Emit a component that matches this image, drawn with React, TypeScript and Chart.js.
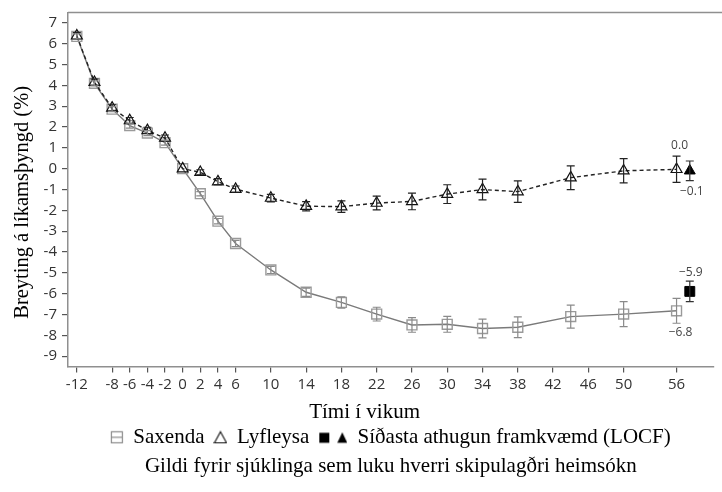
import React, { useEffect, useRef } from 'react';
import { Chart, registerables } from 'chart.js';

Chart.register(...registerables);

// ---- data ----
const weeks = [-12, -10, -8, -6, -4, -2, 0, 2, 4, 6, 10, 14, 18, 22, 26, 30, 34, 38, 44, 50, 56];
const saxenda = [6.35, 4.1, 2.86, 2.07, 1.71, 1.25, 0, -1.2, -2.52, -3.59, -4.86, -5.93, -6.42, -6.98, -7.5, -7.47, -7.67, -7.61, -7.1, -6.98, -6.82];
const saxendaErr = [0.12, 0.12, 0.12, 0.12, 0.12, 0.12, 0, 0.1, 0.13, 0.15, 0.17, 0.2, 0.27, 0.33, 0.35, 0.38, 0.45, 0.5, 0.55, 0.6, 0.6];
const lyfleysa = [6.38, 4.15, 2.92, 2.31, 1.84, 1.47, 0, -0.17, -0.62, -0.98, -1.41, -1.8, -1.82, -1.65, -1.57, -1.22, -1.0, -1.1, -0.43, -0.1, -0.03];
const lyfleysaErr = [0.15, 0.15, 0.15, 0.15, 0.15, 0.15, 0, 0.12, 0.14, 0.15, 0.18, 0.22, 0.28, 0.33, 0.4, 0.45, 0.5, 0.52, 0.57, 0.58, 0.63];
const locfWeek = [57.5];
const saxendaLocf = [-5.89];
const saxendaLocfErr = [0.49];
const lyfleysaLocf = [-0.1];
const lyfleysaLocfErr = [0.47];
const xTicks = [-12, -8, -6, -4, -2, 0, 2, 4, 6, 10, 14, 18, 22, 26, 30, 34, 38, 42, 46, 50, 56];
const yTicks = [-9, -8, -7, -6, -5, -4, -3, -2, -1, 0, 1, 2, 3, 4, 5, 6, 7];
const endLabels = ['0.0', '\u22120.1', '\u22125.9', '\u22126.8'];
const legendNames = ['Saxenda', 'Lyfleysa', 'Síðasta athugun framkvæmd (LOCF)'];
const yTitle = 'Breyting á líkamsþyngd (%)';
const xTitle = 'Tími í vikum';
const footnote = 'Gildi fyrir sjúklinga sem luku hverri skipulagðri heimsókn';

const SERIF = "'Liberation Serif', 'Times New Roman', serif";
const SANS = "'Open Sans', 'DejaVu Sans', sans-serif";

function pts(xs: number[], ys: number[]) {
  return xs.map((x, i) => ({ x, y: ys[i] }));
}

function makeCanvas(w: number, h: number, draw: (c: CanvasRenderingContext2D) => void) {
  const cv = document.createElement('canvas');
  cv.width = w;
  cv.height = h;
  const c = cv.getContext('2d')!;
  draw(c);
  return cv;
}

const errorBars = {
  id: 'errorBars',
  afterDatasetsDraw(chart: any) {
    const ctx = chart.ctx;
    const ys = chart.scales.y;
    chart.data.datasets.forEach((ds: any, di: number) => {
      if (!ds.errors) return;
      const meta = chart.getDatasetMeta(di);
      ctx.save();
      ctx.strokeStyle = ds.errColor;
      ctx.lineWidth = 1.2;
      meta.data.forEach((el: any, i: number) => {
        const e = ds.errors[i];
        if (!e) return;
        const v = ds.data[i].y;
        const x = el.x;
        const y1 = ys.getPixelForValue(v + e);
        const y2 = ys.getPixelForValue(v - e);
        ctx.beginPath();
        ctx.moveTo(x, y1);
        ctx.lineTo(x, y2);
        ctx.moveTo(x - 4, y1);
        ctx.lineTo(x + 4, y1);
        ctx.moveTo(x - 4, y2);
        ctx.lineTo(x + 4, y2);
        ctx.stroke();
      });
      ctx.restore();
    });
  },
};

const frameAndLabels = {
  id: 'frameAndLabels',
  afterDraw(chart: any) {
    const ctx = chart.ctx;
    const a = chart.chartArea;
    ctx.save();
    ctx.strokeStyle = '#8f8f8f';
    ctx.lineWidth = 1.5;
    ctx.beginPath();
    ctx.moveTo(a.left, a.top);
    ctx.lineTo(chart.width, a.top);
    ctx.stroke();

    const pt = (di: number, idx: number) => chart.getDatasetMeta(di).data[idx];
    const last = weeks.length - 1;
    // dataset indices: 0 Lyfleysa, 1 Saxenda, 2 LOCF Saxenda, 3 LOCF Lyfleysa
    const specs = [
      { el: pt(0, last), dx: 3, dy: -24 },
      { el: pt(3, 0), dx: 2, dy: 21 },
      { el: pt(2, 0), dx: 1, dy: -19 },
      { el: pt(1, last), dx: 4, dy: 22 },
    ];
    ctx.fillStyle = '#444';
    ctx.font = `12px ${SANS}`;
    ctx.textAlign = 'center';
    ctx.textBaseline = 'middle';
    specs.forEach((s, i) => {
      if (!s.el) return;
      ctx.fillText(endLabels[i], s.el.x + s.dx, s.el.y + s.dy);
    });
    ctx.restore();
  },
};

export default function App() {
  const ref = useRef<HTMLCanvasElement | null>(null);

  useEffect(() => {
    document.body.style.margin = '0';
    if (!ref.current) return;

    const saxIcon = makeCanvas(14, 14, (c) => {
      c.strokeStyle = '#8a8a8a';
      c.lineWidth = 1.2;
      c.strokeRect(1.5, 1.5, 11, 11);
      c.beginPath();
      c.moveTo(1.5, 7);
      c.lineTo(12.5, 7);
      c.stroke();
    });
    const plcIcon = makeCanvas(14, 14, (c) => {
      c.strokeStyle = '#111';
      c.lineWidth = 1.1;
      c.beginPath();
      c.moveTo(7, 1.5);
      c.lineTo(13, 12.5);
      c.lineTo(1, 12.5);
      c.closePath();
      c.stroke();
    });
    const locfIcon = makeCanvas(44, 14, (c) => {
      c.fillStyle = '#000';
      c.fillRect(16, 2.5, 10, 10);
      c.beginPath();
      c.moveTo(39, 2);
      c.lineTo(44, 12.5);
      c.lineTo(34, 12.5);
      c.closePath();
      c.fill();
    });

    const chart = new Chart(ref.current, {
      type: 'line',
      data: {
        datasets: [
          {
            label: legendNames[1],
            data: pts(weeks, lyfleysa),
            errors: lyfleysaErr,
            errColor: '#222',
            borderColor: '#222',
            borderWidth: 1.4,
            borderDash: [4, 3],
            pointStyle: 'triangle',
            pointRadius: 6.3,
            pointBorderColor: '#111',
            pointBackgroundColor: 'rgba(255,255,255,0)',
            pointBorderWidth: 1.2,
            order: 1,
          } as any,
          {
            label: legendNames[0],
            data: pts(weeks, saxenda),
            errors: saxendaErr,
            errColor: '#8a8a8a',
            borderColor: '#7a7a7a',
            borderWidth: 1.4,
            pointStyle: 'rect',
            pointRadius: 7,
            pointBorderColor: '#9a9a9a',
            pointBackgroundColor: 'rgba(255,255,255,0)',
            pointBorderWidth: 1.4,
            order: 2,
          } as any,
          {
            label: 'LOCF Saxenda',
            data: pts(locfWeek, saxendaLocf),
            errors: saxendaLocfErr,
            errColor: '#333',
            showLine: false,
            pointStyle: 'rect',
            pointRadius: 7,
            pointBorderColor: '#000',
            pointBackgroundColor: '#000',
            pointBorderWidth: 1,
            order: 0,
          } as any,
          {
            label: 'LOCF Lyfleysa',
            data: pts(locfWeek, lyfleysaLocf),
            errors: lyfleysaLocfErr,
            errColor: '#333',
            showLine: false,
            pointStyle: 'triangle',
            pointRadius: 6.3,
            pointBorderColor: '#000',
            pointBackgroundColor: '#000',
            pointBorderWidth: 1,
            order: 0,
          } as any,
        ],
      },
      options: {
        animation: false,
        responsive: true,
        maintainAspectRatio: false,
        layout: { padding: { top: 3, left: 6, right: 0, bottom: 13 } },
        scales: {
          x: {
            type: 'linear',
            min: -13,
            max: 60.2,
            afterBuildTicks: (s: any) => {
              s.ticks = xTicks.map((v) => ({ value: v }));
            },
            ticks: {
              autoSkip: false,
              maxRotation: 0,
              padding: 3,
              color: '#333',
              font: { family: SANS, size: 15 },
              callback: (v: any) => String(v),
            },
            grid: { display: true, drawOnChartArea: false, drawTicks: true, tickLength: 6, color: '#555', lineWidth: 1.2 },
            border: { display: true, color: '#8f8f8f', width: 1.5 },
            title: {
              display: true,
              text: xTitle + '\u00a0'.repeat(10),
              color: '#000',
              font: { family: SERIF, size: 21, weight: 'normal' },
              padding: { top: 3, bottom: -8 },
            },
          },
          y: {
            type: 'linear',
            min: -9.5,
            max: 7.5,
            afterBuildTicks: (s: any) => {
              s.ticks = yTicks.map((v) => ({ value: v }));
            },
            ticks: {
              padding: 5,
              color: '#333',
              font: { family: SANS, size: 15, lineHeight: 1 },
              callback: (v: any) => String(v),
            },
            grid: { display: true, drawOnChartArea: false, drawTicks: true, tickLength: 6, color: '#555', lineWidth: 1.2 },
            border: { display: true, color: '#8f8f8f', width: 1.5 },
            title: {
              display: true,
              text: yTitle + '\u00a0'.repeat(5),
              color: '#000',
              font: { family: SERIF, size: 20.5, weight: 'normal' },
              padding: { top: 4, bottom: 4 },
            },
          },
        },
        plugins: {
          legend: {
            display: true,
            position: 'bottom',
            fullSize: false,
            labels: {
              usePointStyle: true,
              boxWidth: 12,
              padding: 10,
              color: '#000',
              font: { family: SERIF, size: 21 },
              generateLabels: () => [
                { text: legendNames[0], pointStyle: saxIcon, fillStyle: '#fff', strokeStyle: '#fff', lineWidth: 0, hidden: false, datasetIndex: 1 } as any,
                { text: legendNames[1], pointStyle: plcIcon, fillStyle: '#fff', strokeStyle: '#fff', lineWidth: 0, hidden: false, datasetIndex: 0 } as any,
                { text: '   ' + legendNames[2], pointStyle: locfIcon, fillStyle: '#fff', strokeStyle: '#fff', lineWidth: 0, hidden: false, datasetIndex: 2 } as any,
              ],
            },
          },
          subtitle: {
            display: true,
            position: 'bottom',
            fullSize: false,
            text: footnote,
            color: '#000',
            font: { family: SERIF, size: 21, weight: 'normal' },
            padding: { top: -4, bottom: 0 },
          },
          title: { display: false },
          tooltip: { enabled: false },
        },
      } as any,
      plugins: [errorBars, frameAndLabels],
    });

    return () => chart.destroy();
  }, []);

  return (
    <div style={{ position: 'relative', width: '722px', height: '492px' }}>
      <canvas ref={ref} />
    </div>
  );
}
